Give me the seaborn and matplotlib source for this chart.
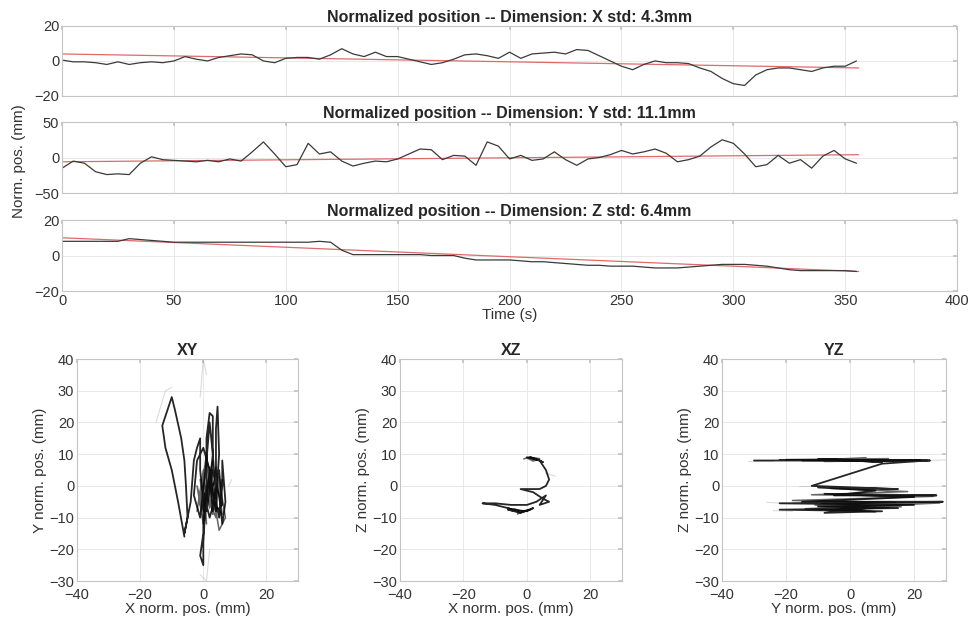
import matplotlib.pyplot as plt
import numpy as np
import pandas as pd
import seaborn as sns

# time axis of the three position traces (s)
t = list(range(0, 360, 5))

x_pos = [0.5, -0.5, -0.5, -1, -2, -0.5, -2, -1, -0.5, -1, 0, 2.5, 1, 0, 2, 3, 4, 3.5,
         0, -1, 1.5, 2, 2, 1, 3.5, 7, 4, 2.5, 5, 2.5, 2.5, 1, -0.5, -2, -1, 1,
         3.5, 4, 3, 1.5, 5, 1.5, 4, 4.5, 5, 4, 6.5, 6, 3, 0, -3, -5, -2, 0,
         -1, -1, -1.5, -4, -6, -10, -13, -14, -8, -5, -4, -4, -5, -6, -4, -3, -3, 0]
y_pos = [-15, -5, -8, -20, -24, -23, -24, -8, 1, -3, -4, -5, -6, -4, -6, -2, -5, 8,
         22, 5, -13, -10, 20, 5, 8, -5, -12, -8, -5, -6, -2, 5, 12, 11, -3, 3,
         2, -11, 22, 16, -2, 3, -4, -2, 8, -3, -11, -2, 0, 4, 10, 5, 8, 12,
         6, -6, -3, 2, 15, 25, 20, 5, -13, -10, 3, -8, -3, -15, 2, 10, -2, -8]
z_pos = [8, 8, 8, 8, 8, 8, 9.5, 9, 8.5, 8, 7.5, 7.5, 7.5, 7.5, 7.5, 7.5, 7.5, 7.5,
         7.5, 7.5, 7.5, 7.5, 7.5, 8, 7.5, 3, 0.5, 0.5, 0.5, 0.5, 0.5, 0.5, 0.5, 0, 0, 0,
         -1.5, -2.5, -2.5, -2.5, -2.5, -3, -3.5, -3.5, -4, -4.5, -5, -5.5, -5.5, -6, -6, -6, -6.5, -7,
         -7, -7, -6.5, -6, -5.5, -5, -5, -5, -5.5, -6, -7, -8, -8.5, -8.5, -8.5, -8.5, -8.5, -9]

# linear trend end points (red lines)
trend_t = [0, 356]
trend_x = [4, -4]
trend_y = [-6, 4]
trend_z = [10, -9]

titles = ["Normalized position -- Dimension: X std: 4.3mm",
          "Normalized position -- Dimension: Y std: 11.1mm",
          "Normalized position -- Dimension: Z std: 6.4mm"]

# 2D trajectories
xy_x = [-6, -8, -10, -12, -13, -11, -10, -9, -7, -6, -5.5, -5, -6, -4, -3, -2, -1, -1, 0, 0,
        -1, 0, 0, 1, 1, 2, 3, 3, 2, 1, 2, 3, 4, 4, 4.5, 5, 4, 5, 6, 6,
        7, 6, 5, 3, 1, 0, 2, 4, 3, 2, 1, -1, -3, -2, 0, 2, 4, 6, 5, 3]
xy_y = [-16, -5, 5, 12, 19, 25, 28, 24, 15, 8, 0, -10, -15, -5, 8, 12, 15, 5, -5, -15,
        -22, -25, -18, 0, 15, 23, 22, 10, 0, -5, 5, -8, 0, 18, 25, 10, -5, -10, 0, 8,
        -5, -12, -3, 5, -8, -2, -10, -3, 10, 20, 8, -10, -3, 8, 12, 5, -8, -6, 5, 0]
xy_x2 = [-2, 0, 1, -1, 2, 3, 1, 4, 5, 3, 6, 4, 2, 0, -1, 1, 3, 5, 7, 5, 2, 0, -2, 0, 2, 4, 6, 3, 1, -1]
xy_y2 = [-8, 5, -12, 2, -6, 8, -3, -10, 3, -5, -9, 6, -7, 3, -4, 10, -6, 2, -10, -14, 4, -8, 0, -12, 6, -4, 2, -9, 8, -6]

xz_x = [0, 2, 4, 5, 3, 1, 4, 6, 7, 6, 4, 1, -2, 2, 5, 7, 4, 6, 3, 0,
        -5, -10, -14, -10, -6, -3, -5, 0, 2, -2, -6, -3]
xz_z = [9, 8.5, 8, 7.5, 8.5, 9, 8, 5, 2, 0, -1, -1, -1, -2, -4, -5, -6, -3, -5, -6,
        -6, -5.5, -5.5, -6, -7, -8, -7.5, -8, -7, -8.5, -7.5, -8]
xz_top_x = [-1, 1, 3, 0, 2, 4, 1]
xz_top_z = [8.5, 9.2, 8.2, 8.8, 7.8, 8.6, 9]
xz_bot_x = [-4, -1, -6, -2, 1, -3, 0]
xz_bot_z = [-7.2, -8.2, -7, -8, -7.5, -8.8, -7.8]

yz_y = [-30, 25, -22, 20, -10, 10, -5, 24, 10, -12, 15, -10, 8, -5, 27, -8, 20, -15,
        29, -22, 20, -10, 15, -22, 10, -8, 5]
yz_z = [8, 8, 8.2, 7.8, 8.5, 7.5, 8.3, 8, 7, 0, -1, -0.5, -1.5, -3, -3, -2.5, -3.5, -5,
        -5, -5.5, -6, -6.5, -7, -7.5, -8, -8.5, -7]
yz_top_y = [-20, 12, -8, 22, -15, 5]
yz_top_z = [8.3, 8.6, 7.7, 8.1, 7.9, 8.9]
yz_bot_y = [-6, 18, -12, 26, -18, 14, -10, 12, -6, 6, -9, 28, -14, 8, -11, 16]
yz_bot_z = [-0.8, -1.8, -2.8, -3.3, -4.6, -5.2, -6.2, -6.8, -7.8, -6.4, -5.6, -5.4, -7.2, -8.2, -6, -6.6]

# faint outlying strokes (light grey in the reference)
faint_xy = [([-15, -12, -10], [20, 30, 31]), ([-1, 0, 1], [28, 40, 35]),
            ([-1, 1, 2], [-28, -30, -20]), ([8, 9], [0, 2])]
faint_xz = [([6, 9], [4, 3])]
faint_yz = [([-32, -24], [8, 8]), ([-16, -8], [0, 0]), ([-20, -26], [-5.5, -5.2]),
            ([-18, -24], [-8, -7.8]), ([24, 30], [8, 8.2])]

sns.set_theme(style="whitegrid")
plt.rcParams['font.family'] = ['Liberation Sans', 'DejaVu Sans']

fig = plt.figure(figsize=(9.74, 6.31), dpi=100)

grid_kw = dict(color="#e8e8e8", linewidth=0.7)


def style_axes(ax):
    ax.set_facecolor("white")
    for s in ax.spines.values():
        s.set_color("#c4c4c4")
        s.set_linewidth(0.8)
    ax.grid(True, **grid_kw)
    ax.tick_params(direction="in", length=3, color="#c4c4c4", labelsize=10.5,
                   labelcolor="#333333", pad=2, top=True, right=True)


# top: the three time series
top_rects = [[0.0637, 0.8479, 0.919, 0.111],
             [0.0637, 0.6941, 0.919, 0.1125],
             [0.0637, 0.5388, 0.919, 0.1125]]
series = [x_pos, y_pos, z_pos]
trends = [trend_x, trend_y, trend_z]
ylims = [(-20, 20), (-50, 50), (-20, 20)]

for i in range(3):
    ax = fig.add_axes(top_rects[i])
    sns.lineplot(x=trend_t, y=trends[i], color="#e06a6a", linewidth=0.9, ax=ax)
    sns.lineplot(x=t, y=series[i], color="#3a3a3a", linewidth=0.9, ax=ax)
    ax.set_xlim(0, 400)
    ax.set_ylim(*ylims[i])
    lo, hi = ylims[i]
    ax.set_yticks([lo, 0, hi])
    ax.set_xticks(range(0, 401, 50))
    style_axes(ax)
    ax.set_title(titles[i], fontsize=11.5, fontweight="bold", pad=3)
    ax.set_ylabel("")
    if i < 2:
        ax.set_xticklabels([])
    else:
        ax.set_xlabel("Time (s)", fontsize=11, color="#333333", labelpad=0)

fig.text(0.019, 0.745, "Norm. pos. (mm)", rotation=90, ha="center", va="center",
         fontsize=11, color="#333333")

# bottom: projections
bot_rects = [[0.0791, 0.0792, 0.2269, 0.3518],
             [0.4107, 0.0792, 0.228, 0.3518],
             [0.7413, 0.0792, 0.23, 0.3518]]
bot_titles = ["XY", "XZ", "YZ"]
xlabels = ["X norm. pos. (mm)", "X norm. pos. (mm)", "Y norm. pos. (mm)"]
ylabels = ["Y norm. pos. (mm)", "Z norm. pos. (mm)", "Z norm. pos. (mm)"]
paths = [(xy_x, xy_y), (xz_x, xz_z), (yz_y, yz_z)]
extra = [[(xy_x2, xy_y2)],
         [(xz_top_x, xz_top_z), (xz_bot_x, xz_bot_z)],
         [(yz_top_y, yz_top_z), (yz_bot_y, yz_bot_z)]]
faint = [faint_xy, faint_xz, faint_yz]

for i in range(3):
    ax = fig.add_axes(bot_rects[i])
    for fx, fy in faint[i]:
        sns.lineplot(x=fx, y=fy, sort=False, estimator=None,
                     color="#999999", alpha=0.35, linewidth=0.8, ax=ax)
    px, py = paths[i]
    sns.lineplot(x=px, y=py, sort=False, estimator=None, color="black",
                 alpha=0.85, linewidth=1.3, ax=ax)
    for ex, ey in extra[i]:
        sns.lineplot(x=ex, y=ey, sort=False, estimator=None, color="black",
                     alpha=0.6, linewidth=1.1, ax=ax)
    ax.set_xlim(-40, 30)
    ax.set_ylim(-30, 40)
    ax.set_xticks([-40, -20, 0, 20])
    ax.set_yticks(range(-30, 41, 10))
    style_axes(ax)
    ax.tick_params(axis="x", pad=5)
    ax.set_title(bot_titles[i], fontsize=11.5, fontweight="bold", pad=3)
    ax.set_xlabel(xlabels[i], fontsize=11, color="#333333", labelpad=0)
    ax.set_ylabel(ylabels[i], fontsize=11, color="#333333", labelpad=2)

fig.savefig("out.png", dpi=100, facecolor="white")
